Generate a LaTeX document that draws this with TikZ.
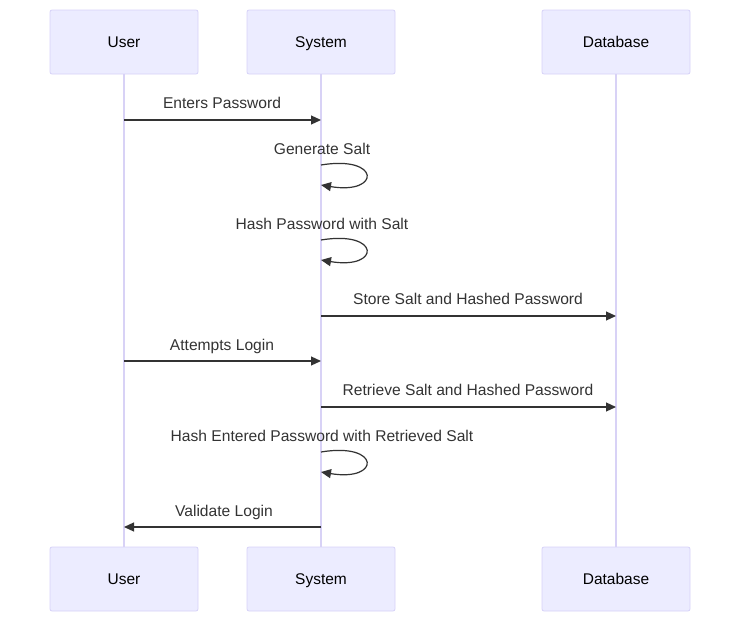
\documentclass[tikz,border=0pt]{standalone}
\usepackage{fontspec}
\setmainfont{Liberation Sans}
\usepackage{xcolor}
\usetikzlibrary{arrows.meta,positioning,calc}
\definecolor{actfill}{HTML}{ECECFF}
\definecolor{actline}{HTML}{D6D2F8}
\definecolor{lifeln}{HTML}{D8D2F6}
\definecolor{msgcol}{HTML}{333333}
\tikzset{
  actor/.style  ={draw=actline,fill=actfill,rounded corners=2pt,minimum width=148pt,minimum height=64pt,font=\fontsize{15.5}{18}\selectfont,text height=11pt,text depth=0pt,line width=0.8pt},
  life/.style   ={draw=lifeln,line width=1.4pt},
  msg/.style    ={-{Triangle[length=10pt,width=9pt]},draw=msgcol,fill=msgcol,line width=1.2pt},
  loopmsg/.style={msg,fill=none,-{Triangle[length=10pt,width=9pt,fill=msgcol]}},
  lbl/.style    ={font=\fontsize{15.6}{18}\selectfont,text=msgcol,inner sep=0pt,text height=11pt,text depth=0pt},
}
\begin{document}
\begin{tikzpicture}[x=1pt,y=-1pt]
  \useasboundingbox (0,0) rectangle (748,629);
  % actors
  \node[actor] (userTop) at (124,42)  {User};
  \node[actor] (sysTop)  at (321,42)  {System};
  \node[actor] (dbTop)   at (616,42)  {Database};
  \node[actor] (userBot) at (124,579) {User};
  \node[actor] (sysBot)  at (321,579) {System};
  \node[actor] (dbBot)   at (616,579) {Database};
  \draw[life] (userTop) -- (userBot);
  \draw[life] (sysTop) -- (sysBot);
  \draw[life] (dbTop) -- (dbBot);
  % message anchors on the lifelines
  \foreach \n/\y in {a/120,d/316,e/361,f/407,h/527}{
    \coordinate (u\n) at (124,\y);
    \coordinate (s\n) at (321,\y);
    \coordinate (d\n) at (616,\y);
  }
  \foreach \n/\y in {b/165,c/240,g/452}{
    \coordinate (s\n) at (321,\y);
    \coordinate (s\n2) at (321,\y+20);
  }
  % messages
  \draw[msg] (ua) -- (sa);
  \node[lbl] (mEnter) at (222,103) {Enters Password};
  \draw[loopmsg] (sb) .. controls ($(sb)+(60,-10)$) and ($(sb)+(60,30)$) .. (sb2);
  \node[lbl] (mGen) at (322,149) {Generate Salt};
  \draw[loopmsg] (sc) .. controls ($(sc)+(60,-10)$) and ($(sc)+(60,30)$) .. (sc2);
  \node[lbl] (mHash) at (322,224) {Hash Password with Salt};
  \draw[msg] (sd) -- (dd);
  \node[lbl] (mStore) at (468,299) {Store Salt and Hashed Password};
  \draw[msg] (ue) -- (se);
  \node[lbl] (mLogin) at (222,345) {Attempts Login};
  \draw[msg] (sf) -- (df);
  \node[lbl] (mGet) at (468,390) {Retrieve Salt and Hashed Password};
  \draw[loopmsg] (sg) .. controls ($(sg)+(60,-10)$) and ($(sg)+(60,30)$) .. (sg2);
  \node[lbl] (mHash2) at (322,436) {Hash Entered Password with Retrieved Salt};
  \draw[msg] (sh) -- (uh);
  \node[lbl] (mValid) at (224,511) {Validate Login};
\end{tikzpicture}
\end{document}
